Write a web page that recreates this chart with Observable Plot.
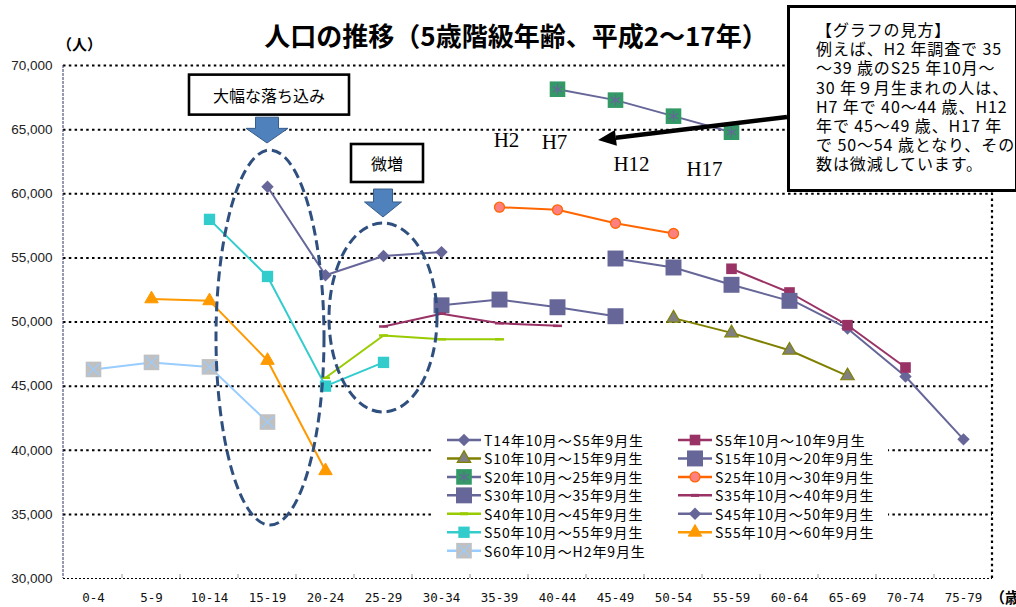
<!DOCTYPE html>
<html>
<head>
<meta charset="utf-8">
<script src="https://cdn.jsdelivr.net/npm/d3@7"></script>
<script src="https://cdn.jsdelivr.net/npm/@observablehq/plot@0.6"></script>
<style>
  html, body { margin: 0; padding: 0; background: #fff; }
  #chart { width: 1016px; height: 607px; overflow: hidden; }
</style>
</head>
<body>
<div id="chart"></div>
<script>
// Age classes on the x axis and the census years (Heisei 2, 7, 12, 17)
const ages = ["0-4","5-9","10-14","15-19","20-24","25-29","30-34","35-39",
              "40-44","45-49","50-54","55-59","60-64","65-69","70-74","75-79"];
const surveys = ["H2","H7","H12","H17"];
const yTicks = [30000,35000,40000,45000,50000,55000,60000,65000,70000];

// Birth cohorts (legend order)
const cohortNames = [
  "T14年10月～S5年9月生",  "S5年10月～10年9月生",
  "S10年10月～15年9月生", "S15年10月～20年9月生",
  "S20年10月～25年9月生", "S25年10月～30年9月生",
  "S30年10月～35年9月生", "S35年10月～40年9月生",
  "S40年10月～45年9月生", "S45年10月～50年9月生",
  "S50年10月～55年9月生", "S55年10月～60年9月生",
  "S60年10月～H2年9月生"
];
// Age class of each cohort at the H2 survey
const ageAtH2 = ["60-64","55-59","50-54","45-49","40-44","35-39","30-34",
                 "25-29","20-24","15-19","10-14","5-9","0-4"];

// Population of each cohort at H2, H7, H12, H17
const popT14 = [51800, 49500, 45750, 40850];
const popS5  = [54150, 52300, 49750, 46450];
const popS10 = [50300, 49150, 47800, 45800];
const popS15 = [54950, 54250, 52900, 51650];
const popS20 = [68150, 67300, 66050, 64800];
const popS25 = [58950, 58750, 57700, 56900];
const popS30 = [51300, 51750, 51150, 50450];
const popS35 = [49650, 50650, 49900, 49700];
const popS40 = [45650, 48950, 48650, 48650];
const popS45 = [60550, 53650, 55150, 55450];
const popS50 = [58000, 53550, 45000, 46850];
const popS55 = [51800, 51650, 47000, 38400];
const popS60 = [46300, 46850, 46500, 42200];
const cohortValues = [popT14, popS5, popS10, popS15, popS20, popS25, popS30,
                      popS35, popS40, popS45, popS50, popS55, popS60];

// Survey labels floating above the S20 cohort
const surveyLabels = ["H2","H7","H12","H17"];
const surveyLabelAge = ["35-39","40-44","45-49","50-54"];
const surveyLabelValue = [64150, 64000, 62280, 61900];

// ---- styling ----
const dash = {draw(ctx, size) { const w = Math.sqrt(size) * 0.6; ctx.moveTo(-w, 0); ctx.lineTo(w, 0); }};
const SLATE = "#666699", WINE = "#993366";
const cohortStyle = [
  {line: SLATE,     symbol: "diamond2", r: 5.6, fill: SLATE},
  {line: WINE,      symbol: "square",   r: 6.0, fill: WINE},
  {line: "#808000", symbol: "triangle", r: 5.0, fill: "#808080", edge: "#808000", edgeWidth: 1.2},
  {line: SLATE,     symbol: "square",   r: 9.0, fill: SLATE},
  {line: SLATE,     symbol: "square",   r: 8.8, fill: "#339966", overlay: "asterisk", overlayR: 5.2, overlayStroke: SLATE},
  {line: "#ff6600", symbol: "circle",   r: 5.0, fill: "#ff8080", edge: "#ff6600", edgeWidth: 1.3},
  {line: SLATE,     symbol: "square",   r: 9.0, fill: SLATE},
  {line: WINE,      symbol: dash,       r: 4.2, dashStroke: WINE},
  {line: "#99cc00", symbol: dash,       r: 4.2, dashStroke: "#99cc00"},
  {line: SLATE,     symbol: "diamond2", r: 5.6, fill: SLATE},
  {line: "#33cccc", symbol: "square",   r: 6.4, fill: "#33cccc"},
  {line: "#ff9900", symbol: "triangle", r: 5.0, fill: "#ff9900", edge: "#ff9900", edgeWidth: 1},
  {line: "#99ccff", symbol: "square",   r: 8.8, fill: "#c0c0c0", overlay: "times", overlayR: 5.5, overlayStroke: "#99ccff"}
];

const JP = "'Noto Sans CJK JP', 'Noto Sans', sans-serif";
const W = 1016, H = 607;
const M = {top: 65, right: 24, bottom: 29, left: 63};

const table = cohortNames.flatMap((name, i) => {
  const s = ages.indexOf(ageAtH2[i]);
  return cohortValues[i].map((v, j) => ({cohort: name, survey: surveys[j], age: ages[s + j], value: v}));
});

const seriesMarks = cohortNames.flatMap((name, i) => {
  const rows = table.filter(d => d.cohort === name);
  const st = cohortStyle[i];
  const marks = [Plot.line(rows, {x: "age", y: "value", stroke: st.line, strokeWidth: 2})];
  if (st.symbol === dash) {
    marks.push(Plot.dot(rows, {x: "age", y: "value", symbol: dash, r: st.r, fill: "none", stroke: st.dashStroke, strokeWidth: 2.5}));
  } else {
    marks.push(Plot.dot(rows, {x: "age", y: "value", symbol: st.symbol, r: st.r, fill: st.fill,
      stroke: st.edge || "none", strokeWidth: st.edgeWidth || 0}));
  }
  if (st.overlay) {
    marks.push(Plot.dot(rows, {x: "age", y: "value", symbol: st.overlay, r: st.overlayR, fill: "none",
      stroke: st.overlayStroke, strokeWidth: 1.2}));
  }
  return marks;
});

const labelShift = [7, -3, 16, 31];
const labelMarks = surveyLabels.map((t, i) => Plot.text([{age: surveyLabelAge[i], value: surveyLabelValue[i], t}], {
  x: "age", y: "value", text: "t", dx: labelShift[i], fontSize: 21,
  fontFamily: "'Liberation Serif', 'DejaVu Serif', serif", fill: "#000"
}));

const chart = Plot.plot({
  width: W, height: H,
  marginTop: M.top, marginRight: M.right, marginBottom: M.bottom, marginLeft: M.left,
  x: {type: "point", domain: ages, padding: 0.5},
  y: {domain: [30000, 70000]},
  style: {fontFamily: "'Liberation Sans', Arial, sans-serif", background: "#fff", color: "#000", overflow: "visible"},
  marks: [
    Plot.ruleY(yTicks.slice(1), {stroke: "#000", strokeWidth: 2, strokeDasharray: "2.5,3.3"}),
    Plot.ruleY([30000], {stroke: "#000", strokeWidth: 1, strokeDasharray: "2,2"}),
    Plot.axisY(yTicks, {tickFormat: d3.format(","), tickSize: 0, tickPadding: 11, fontSize: 13.5, fill: "#222", label: null}),
    Plot.axisX({tickSize: 0, tickPadding: 15, fontSize: 12.5, fill: "#111",
      fontFamily: "'DejaVu Sans Mono', 'Liberation Mono', monospace", label: null}),
    ...seriesMarks,
    ...labelMarks
  ]
});

document.getElementById("chart").appendChild(chart);

// ---- annotations drawn through the chart's scales ----
const svg = d3.select(chart);
const sx = v => chart.scale("x").apply(v);
const sy = v => chart.scale("y").apply(v);
const step = sx(ages[1]) - sx(ages[0]);
const x0 = M.left, x1 = W - M.right, yTop = M.top, yBot = H - M.bottom;

// frame edges and category ticks
const frame = svg.append("g");
frame.append("line").attr("x1", x0).attr("x2", x0).attr("y1", yTop).attr("y2", yBot)
  .attr("stroke", "#333366").attr("stroke-width", 1).attr("stroke-dasharray", "3,1");
frame.append("line").attr("x1", x1).attr("x2", x1).attr("y1", yTop).attr("y2", yBot)
  .attr("stroke", "#000").attr("stroke-width", 2.2).attr("stroke-dasharray", "2.5,3.3");
ages.slice(1).forEach(a => {
  const bx = sx(a) - step / 2;
  frame.append("line").attr("x1", bx).attr("x2", bx).attr("y1", yBot).attr("y2", yBot - 4)
    .attr("stroke", "#999").attr("stroke-width", 1);
});

// dashed ellipses around the drop and the slight increase
const ellipseStroke = "#2f4f7f";
const ellipses = [
  {age: "15-19", shift: 3, top: 63370, bottom: 34130, rx: 54},
  {age: "25-29", shift: 0, top: 57680, bottom: 42940, rx: 54}
];
ellipses.forEach(e => {
  const t = sy(e.top), b = sy(e.bottom);
  svg.append("ellipse").attr("cx", sx(e.age) + e.shift).attr("cy", (t + b) / 2)
    .attr("rx", e.rx).attr("ry", (b - t) / 2)
    .attr("fill", "none").attr("stroke", ellipseStroke).attr("stroke-width", 3)
    .attr("stroke-dasharray", "10,5");
});

// callout boxes with block arrows
const callouts = [
  {text: "大幅な落ち込み", age: "15-19", boxShift: 2, arrowShift: 0, top: 69250, w: 160, h: 40,
   arrowTop: 65930, arrowNeck: 65060, arrowTip: 63920, shaft: 11.5, head: 21},
  {text: "微増", age: "25-29", boxShift: 4, arrowShift: 0, top: 63840, w: 72, h: 38,
   arrowTop: 60330, arrowNeck: 59320, arrowTip: 58150, shaft: 9.5, head: 18.5}
];
callouts.forEach(c => {
  const cx = sx(c.age) + c.boxShift, ty = sy(c.top);
  svg.append("rect").attr("x", cx - c.w / 2).attr("y", ty).attr("width", c.w).attr("height", c.h)
    .attr("fill", "#fff").attr("stroke", "#000").attr("stroke-width", 2.6);
  svg.append("text").attr("x", cx).attr("y", ty + c.h / 2).attr("text-anchor", "middle")
    .attr("dominant-baseline", "central").attr("font-family", JP).attr("font-size", 16)
    .attr("fill", "#000").text(c.text);
  const ax = sx(c.age) + c.arrowShift;
  const a0 = sy(c.arrowTop), a1 = sy(c.arrowNeck), a2 = sy(c.arrowTip);
  const p = [[ax - c.shaft, a0], [ax + c.shaft, a0], [ax + c.shaft, a1], [ax + c.head, a1],
             [ax, a2], [ax - c.head, a1], [ax - c.shaft, a1]];
  svg.append("path").attr("d", "M" + p.map(q => q.join(",")).join("L") + "Z")
    .attr("fill", "#4f81bd").attr("stroke", "#385d8a").attr("stroke-width", 1);
});

// legend
const symbolType = {diamond2: d3.symbolDiamond2, square: d3.symbolSquare, triangle: d3.symbolTriangle,
                    circle: d3.symbolCircle, asterisk: d3.symbolAsterisk, times: d3.symbolTimes};
const legend = svg.append("g");
legend.append("rect").attr("x", 432).attr("y", 428).attr("width", 456).attr("height", 137).attr("fill", "#fff");
cohortNames.forEach((name, i) => {
  const col = i % 2, row = Math.floor(i / 2);
  const lx = col ? 678 : 447, ly = 440 + row * 18.45;
  const st = cohortStyle[i];
  const g = legend.append("g");
  g.append("line").attr("x1", lx).attr("x2", lx + 34).attr("y1", ly).attr("y2", ly)
    .attr("stroke", st.line).attr("stroke-width", 2.5);
  const mx = lx + 17;
  if (st.symbol === dash) {
    g.append("line").attr("x1", mx - 4).attr("x2", mx + 4).attr("y1", ly).attr("y2", ly)
      .attr("stroke", st.dashStroke).attr("stroke-width", 3);
  } else {
    g.append("path").attr("transform", `translate(${mx},${ly})`)
      .attr("d", d3.symbol(symbolType[st.symbol], Math.PI * st.r * st.r)())
      .attr("fill", st.fill).attr("stroke", st.edge || "none").attr("stroke-width", st.edgeWidth || 0);
    if (st.overlay) {
      g.append("path").attr("transform", `translate(${mx},${ly})`)
        .attr("d", d3.symbol(symbolType[st.overlay], Math.PI * st.overlayR * st.overlayR)())
        .attr("fill", "none").attr("stroke", st.overlayStroke).attr("stroke-width", 1.2);
    }
  }
  g.append("text").attr("x", lx + 37).attr("y", ly).attr("text-anchor", "start")
    .attr("dominant-baseline", "central")
    .attr("font-family", JP).attr("font-size", 14).attr("letter-spacing", "0.9px")
    .attr("fill", "#000").text(name);
});

// explanatory note box (top right)
const noteLines = [
  "【グラフの見方】",
  "例えば、H2 年調査で 35",
  "～39 歳のS25 年10月～",
  "30 年９月生まれの人は、",
  "H7 年で 40～44 歳、H12",
  "年で 45～49 歳、H17 年",
  "で 50～54 歳となり、その",
  "数は微減しています。"
];
const note = svg.append("g");
note.append("rect").attr("x", 788.5).attr("y", 6.5).attr("width", 228).attr("height", 184)
  .attr("fill", "#fff").attr("stroke", "#000").attr("stroke-width", 3);
noteLines.forEach((t, i) => {
  note.append("text").attr("x", 816).attr("y", 29 + i * 19.2).attr("text-anchor", "start")
    .attr("dominant-baseline", "central").attr("letter-spacing", "0.9px")
    .attr("font-family", JP).attr("font-size", 16).attr("fill", "#000").text(t);
});

// black pointer arrow from the note box toward the S20 cohort
const arrowFrom = {age: "60-64", value: 65950, shift: -2};
const arrowTo = {age: "40-44", value: 64150, shift: 41};
{
  const fx = sx(arrowFrom.age) + arrowFrom.shift, fy = sy(arrowFrom.value);
  const tx = sx(arrowTo.age) + arrowTo.shift, ty = sy(arrowTo.value);
  const ang = Math.atan2(ty - fy, tx - fx), L = 18, Wd = 8;
  const bx = tx - L * Math.cos(ang), by = ty - L * Math.sin(ang);
  svg.append("line").attr("x1", fx).attr("y1", fy).attr("x2", bx).attr("y2", by)
    .attr("stroke", "#000").attr("stroke-width", 4.5);
  const nx = -Math.sin(ang) * Wd, ny = Math.cos(ang) * Wd;
  svg.append("path").attr("d", `M${tx},${ty}L${bx + nx},${by + ny}L${bx - nx},${by - ny}Z`).attr("fill", "#000");
}

// title and unit labels
svg.append("text").attr("x", 516).attr("y", 34).attr("text-anchor", "middle").attr("dominant-baseline", "central")
  .attr("font-family", JP).attr("font-weight", 700).attr("font-size", 26).attr("fill", "#000")
  .text("人口の推移（5歳階級年齢、平成2～17年）");
svg.append("text").attr("x", 57).attr("y", 43).attr("text-anchor", "start").attr("dominant-baseline", "central")
  .attr("font-family", JP).attr("font-weight", 700).attr("font-size", 15).attr("fill", "#000").text("（人）");
svg.append("text").attr("x", 990).attr("y", 596).attr("text-anchor", "start").attr("dominant-baseline", "central")
  .attr("font-family", JP).attr("font-weight", 700).attr("font-size", 15).attr("fill", "#000").text("（歳）");
</script>
</body>
</html>
